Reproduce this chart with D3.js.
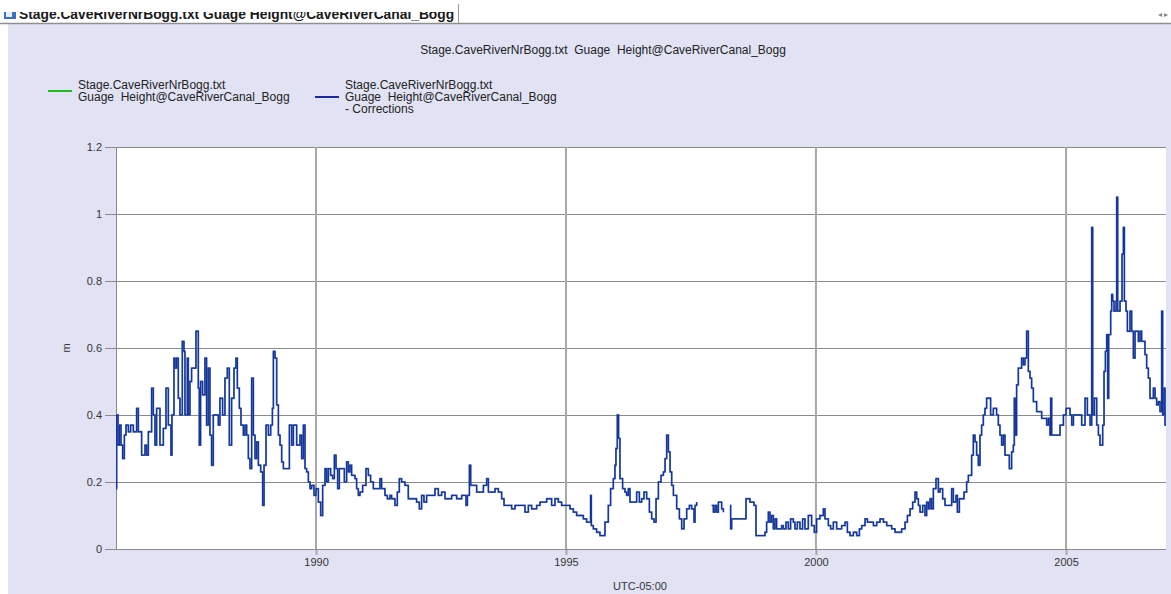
<!DOCTYPE html>
<html>
<head>
<meta charset="utf-8">
<script src="https://cdn.jsdelivr.net/npm/d3@7/dist/d3.min.js"></script>
<style>
  body { margin: 0; background: #ffffff; }
  text { font-family: "Liberation Sans", Arial, sans-serif; white-space: pre; }
</style>
</head>
<body>
<div id="chart"></div>
<script>
(function () {

    // Metin ve eksen verileri
    const tabTitle = "Stage.CaveRiverNrBogg.txt Guage Height@CaveRiverCanal_Bogg";
    const chartTitle = "Stage.CaveRiverNrBogg.txt  Guage  Height@CaveRiverCanal_Bogg";
    const legendRaw = ["Stage.CaveRiverNrBogg.txt", "Guage  Height@CaveRiverCanal_Bogg"];
    const legendCorr = ["Stage.CaveRiverNrBogg.txt", "Guage  Height@CaveRiverCanal_Bogg", "- Corrections"];
    const yTicks = [0, 0.2, 0.4, 0.6, 0.8, 1, 1.2];
    const yTickLabels = ["0", "0.2", "0.4", "0.6", "0.8", "1", "1.2"];
    const xTickYears = [1990, 1995, 2000, 2005];
    const xDomainYears = [1986, 2007];
    const yLabel = "m";
    const xLabel = "UTC-05:00";

    // Seri: ondalık yıl ve su seviyesi (m), null = veri yok
    const years = [
        1986.000, 1986.013, 1986.040, 1986.067, 1986.100, 1986.133, 1986.167, 1986.200, 1986.247, 1986.293,
        1986.347, 1986.413, 1986.447, 1986.513, 1986.580, 1986.613, 1986.647, 1986.713, 1986.747, 1986.780,
        1986.813, 1986.880, 1986.947, 1987.000, 1987.047, 1987.100, 1987.120, 1987.160, 1987.180, 1987.213,
        1987.247, 1987.280, 1987.327, 1987.360, 1987.380, 1987.427, 1987.447, 1987.480, 1987.513, 1987.600,
        1987.647, 1987.667, 1987.693, 1987.733, 1987.780, 1987.813, 1987.847, 1987.880, 1987.913, 1987.947,
        1988.047, 1988.080, 1988.133, 1988.180, 1988.227, 1988.267, 1988.313, 1988.360, 1988.400, 1988.427,
        1988.467, 1988.500, 1988.547, 1988.580, 1988.613, 1988.647, 1988.680, 1988.713, 1988.747, 1988.780,
        1988.813, 1988.847, 1988.893, 1988.933, 1988.960, 1989.000, 1989.047, 1989.093, 1989.127, 1989.147,
        1989.180, 1989.213, 1989.247, 1989.280, 1989.313, 1989.347, 1989.467, 1989.513, 1989.547, 1989.613,
        1989.680, 1989.713, 1989.747, 1989.780, 1989.813, 1989.847, 1989.880, 1989.913, 1989.960, 1990.000,
        1990.047, 1990.093, 1990.133,
        1990.180, 1990.213, 1990.247, 1990.293, 1990.333, 1990.367, 1990.400, 1990.433, 1990.467, 1990.567,
        1990.613, 1990.647, 1990.680, 1990.713, 1990.780, 1990.813, 1990.847, 1990.880, 1990.933, 1991.000,
        1991.047, 1991.093, 1991.147, 1991.280, 1991.313, 1991.380, 1991.427, 1991.480, 1991.513, 1991.580,
        1991.627, 1991.667, 1991.713, 1991.780, 1991.847, 1992.013, 1992.067, 1992.113, 1992.160, 1992.213,
        1992.380, 1992.447, 1992.513, 1992.580, 1992.713, 1992.813, 1992.913, 1993.000, 1993.027, 1993.067,
        1993.093, 1993.213, 1993.347, 1993.413, 1993.447, 1993.580, 1993.647, 1993.713, 1993.760, 1993.913,
        1993.980, 1994.180, 1994.247, 1994.313, 1994.413,
        1994.480, 1994.613, 1994.713, 1994.780, 1994.847, 1994.913, 1995.080, 1995.147, 1995.213, 1995.280,
        1995.347, 1995.413, 1995.493, 1995.507, 1995.547, 1995.613, 1995.680, 1995.780, 1995.847, 1995.893,
        1995.947, 1995.980, 1996.000, 1996.027, 1996.053, 1996.080, 1996.133, 1996.180, 1996.213, 1996.247,
        1996.280, 1996.413, 1996.467, 1996.513, 1996.560, 1996.613, 1996.667, 1996.713, 1996.760, 1996.800,
        1996.847, 1996.900, 1996.947, 1996.980, 1997.013, 1997.047, 1997.080, 1997.113, 1997.147, 1997.213,
        1997.267, 1997.313, 1997.360, 1997.413, 1997.467, 1997.513, 1997.560, 1997.580, 1997.613, 1997.650,
        1997.913, 1997.947, 1997.980, 1998.013, 1998.047, 1998.113, 1998.147, 1998.170,
        1998.280, 1998.293, 1998.313, 1998.547, 1998.600, 1998.680, 1998.760, 1998.800, 1998.913, 1998.980,
        1999.013, 1999.047,
        1999.080, 1999.113, 1999.147, 1999.180, 1999.213, 1999.313, 1999.347, 1999.400, 1999.447, 1999.493,
        1999.547, 1999.580, 1999.627, 1999.680, 1999.733, 1999.780, 1999.847, 1999.913, 1999.967, 2000.013,
        2000.080, 2000.147, 2000.180, 2000.247, 2000.293, 2000.347, 2000.413, 2000.513, 2000.580, 2000.627,
        2000.680, 2000.747, 2000.813, 2000.867, 2000.913, 2000.980, 2001.027, 2001.147, 2001.213, 2001.280,
        2001.347, 2001.413, 2001.513, 2001.580, 2001.667, 2001.713, 2001.780, 2001.827, 2001.880, 2001.933,
        2001.980, 2002.013, 2002.047, 2002.080, 2002.133, 2002.180, 2002.213, 2002.247, 2002.280, 2002.313,
        2002.347, 2002.400, 2002.447, 2002.480, 2002.533, 2002.580, 2002.647, 2002.713, 2002.747, 2002.800,
        2002.827, 2002.867, 2002.913, 2002.960, 2003.013, 2003.047,
        2003.113, 2003.147, 2003.180, 2003.213, 2003.247, 2003.280, 2003.313, 2003.347, 2003.380, 2003.413,
        2003.493, 2003.547, 2003.613, 2003.647, 2003.680, 2003.713, 2003.747, 2003.780, 2003.867, 2003.913,
        2003.947, 2003.967, 2003.987, 2004.013, 2004.047, 2004.113, 2004.147, 2004.180, 2004.213, 2004.247,
        2004.280, 2004.313, 2004.347, 2004.413, 2004.513, 2004.613, 2004.647, 2004.680, 2004.693, 2004.713,
        2004.880, 2004.947, 2005.000, 2005.080, 2005.113, 2005.147, 2005.313, 2005.380, 2005.427, 2005.480,
        2005.513, 2005.533, 2005.567, 2005.613, 2005.647, 2005.680, 2005.733, 2005.760, 2005.787, 2005.813,
        2005.833, 2005.853, 2005.893, 2005.913, 2005.933, 2005.960, 2006.000, 2006.013, 2006.033, 2006.080,
        2006.120, 2006.147, 2006.167, 2006.200, 2006.227, 2006.280, 2006.313, 2006.347, 2006.380, 2006.447,
        2006.480, 2006.513, 2006.580, 2006.613, 2006.647, 2006.680, 2006.747, 2006.780, 2006.813, 2006.847,
        2006.880, 2006.913, 2006.933, 2006.960, 2006.980, 2007.000
    ];
    const stage = [
        0.18, 0.40, 0.31, 0.37, 0.31, 0.27, 0.34, 0.37, 0.35, 0.37,
        0.35, 0.42, 0.35, 0.28, 0.31, 0.28, 0.35, 0.48, 0.40, 0.31,
        0.42, 0.31, 0.36, 0.48, 0.37, 0.28, 0.40, 0.57, 0.54, 0.57,
        0.45, 0.40, 0.62, 0.59, 0.40, 0.57, 0.40, 0.50, 0.54, 0.65,
        0.48, 0.31, 0.50, 0.46, 0.57, 0.37, 0.54, 0.34, 0.25, 0.40,
        0.37, 0.45, 0.40, 0.51, 0.54, 0.31, 0.45, 0.54, 0.57, 0.48,
        0.42, 0.37, 0.34, 0.37, 0.34, 0.27, 0.24, 0.51, 0.34, 0.27,
        0.32, 0.25, 0.23, 0.13, 0.25, 0.37, 0.34, 0.37, 0.42, 0.59,
        0.57, 0.43, 0.34, 0.31, 0.26, 0.24, 0.37, 0.31, 0.37, 0.31,
        0.34, 0.27, 0.37, 0.24, 0.23, 0.20, 0.18, 0.19, 0.16, 0.18,
        0.14, 0.10, 0.19,
        0.24, 0.20, 0.24, 0.22, 0.21, 0.28, 0.24, 0.18, 0.24, 0.20,
        0.26, 0.23, 0.25, 0.22, 0.21, 0.18, 0.16, 0.17, 0.19, 0.24,
        0.22, 0.20, 0.18, 0.21, 0.18, 0.16, 0.15, 0.16, 0.15, 0.13,
        0.17, 0.21, 0.20, 0.19, 0.15, 0.14, 0.12, 0.16, 0.14, 0.16,
        0.18, 0.16, 0.17, 0.15, 0.16, 0.15, 0.16, 0.13, 0.16, 0.25,
        0.19, 0.17, 0.19, 0.21, 0.17, 0.18, 0.17, 0.15, 0.13, 0.12,
        0.13, 0.11, 0.13, 0.12, 0.13,
        0.14, 0.15, 0.13, 0.15, 0.14, 0.13, 0.12, 0.11, 0.10, 0.10,
        0.09, 0.08, 0.16, 0.07, 0.06, 0.05, 0.04, 0.08, 0.13, 0.18,
        0.21, 0.25, 0.30, 0.40, 0.33, 0.21, 0.18, 0.17, 0.16, 0.18,
        0.14, 0.17, 0.14, 0.15, 0.17, 0.15, 0.11, 0.09, 0.08, 0.15,
        0.20, 0.22, 0.23, 0.27, 0.34, 0.29, 0.23, 0.19, 0.16, 0.12,
        0.09, 0.06, 0.09, 0.12, 0.13, 0.12, 0.08, 0.13, 0.14, null,
        0.13, 0.11, 0.13, 0.11, 0.14, 0.12, 0.11, null,
        0.13, 0.06, 0.09, 0.09, 0.15, 0.14, 0.13, 0.04, 0.04, 0.05,
        0.08, 0.11,
        0.08, 0.10, 0.06, 0.09, 0.06, 0.07, 0.06, 0.08, 0.06, 0.09,
        0.08, 0.06, 0.08, 0.06, 0.09, 0.06, 0.10, 0.07, 0.05, 0.09,
        0.10, 0.12, 0.09, 0.07, 0.06, 0.08, 0.06, 0.07, 0.08, 0.05,
        0.04, 0.05, 0.04, 0.06, 0.07, 0.09, 0.08, 0.07, 0.08, 0.09,
        0.08, 0.07, 0.06, 0.05, 0.05, 0.06, 0.08, 0.10, 0.12, 0.14,
        0.17, 0.15, 0.13, 0.11, 0.13, 0.10, 0.14, 0.12, 0.15, 0.12,
        0.18, 0.21, 0.17, 0.18, 0.15, 0.13, 0.13, 0.18, 0.14, 0.16,
        0.11, 0.15, 0.15, 0.17, 0.20, 0.22,
        0.28, 0.34, 0.32, 0.28, 0.25, 0.34, 0.37, 0.40, 0.42, 0.45,
        0.40, 0.42, 0.40, 0.37, 0.34, 0.31, 0.34, 0.28, 0.24, 0.29,
        0.31, 0.45, 0.34, 0.49, 0.54, 0.57, 0.55, 0.57, 0.65, 0.53,
        0.51, 0.48, 0.44, 0.41, 0.39, 0.37, 0.39, 0.34, 0.45, 0.34,
        0.37, 0.40, 0.42, 0.40, 0.37, 0.40, 0.37, 0.45, 0.40, 0.37,
        0.96, 0.40, 0.45, 0.37, 0.34, 0.31, 0.37, 0.53, 0.59, 0.64,
        0.45, 0.64, 0.71, 0.76, 0.74, 0.71, 0.74, 1.05, 0.71, 0.74,
        0.88, 0.96, 0.74, 0.71, 0.65, 0.71, 0.65, 0.57, 0.65, 0.62,
        0.65, 0.62, 0.58, 0.54, 0.51, 0.45, 0.48, 0.45, 0.43, 0.44,
        0.41, 0.71, 0.40, 0.48, 0.37, 0.37
    ];

    // Ondalık yılı tarihe çevir
    function yearToDate(y) {
        const yr = Math.floor(y);
        const start = new Date(yr, 0, 1);
        const end = new Date(yr + 1, 0, 1);
        return new Date(+start + (y - yr) * (end - start));
    }

    const data = years.map((y, i) => ({ date: yearToDate(y), value: stage[i] }));

    const width = 1171;
    const height = 594;
    const plotLeft = 116;
    const plotRight = 1166;
    const plotTop = 147;
    const plotBottom = 549;

    const svg = d3.select('#chart')
        .append('svg')
        .attr('width', width)
        .attr('height', height);

    // Üst sekme şeridi
    svg.append("rect")
        .attr("x", 0).attr("y", 0)
        .attr("width", width).attr("height", 24)
        .attr("fill", "#ffffff");

    svg.append("clipPath").attr("id", "tabclip")
        .append("rect")
        .attr("x", 0).attr("y", 12)
        .attr("width", 458).attr("height", 11);

    const tab = svg.append("g").attr("clip-path", "url(#tabclip)");
    tab.append("rect")
        .attr("x", 4).attr("y", 7)
        .attr("width", 12).attr("height", 12)
        .attr("fill", "#3a6fc4");
    tab.append("rect")
        .attr("x", 6).attr("y", 12)
        .attr("width", 6).attr("height", 5)
        .attr("fill", "#e8eefa");
    tab.append("text")
        .attr("x", 19).attr("y", 19)
        .attr("font-size", 13.8)
        .attr("font-weight", "bold")
        .attr("fill", "#1a1a1a")
        .text(tabTitle);

    svg.append("line")
        .attr("x1", 458.5).attr("x2", 458.5)
        .attr("y1", 4).attr("y2", 23)
        .attr("stroke", "#9a9a9a");

    svg.append("text")
        .attr("x", 1163).attr("y", 17)
        .attr("font-size", 8)
        .attr("fill", "#888")
        .attr("text-anchor", "middle")
        .text("◂ ▸");

    // Lavanta panel
    svg.append("rect")
        .attr("x", 8).attr("y", 24)
        .attr("width", width - 8).attr("height", height - 24)
        .attr("fill", "#e1e3f5");

    svg.append("line")
        .attr("x1", 0).attr("x2", width)
        .attr("y1", 23.5).attr("y2", 23.5)
        .attr("stroke", "#8f8f8f")
        .attr("stroke-width", 1.5);

    // Çizim alanı
    svg.append("rect")
        .attr("x", plotLeft).attr("y", plotTop)
        .attr("width", plotRight - plotLeft).attr("height", plotBottom - plotTop)
        .attr("fill", "#ffffff");

    // Ölçekler
    const x = d3.scaleTime()
        .domain(xDomainYears.map(yearToDate))
        .range([plotLeft, plotRight]);

    const y = d3.scaleLinear()
        .domain([0, 1.2])
        .range([plotBottom, plotTop]);

    // Yatay ızgara ve y ekseni
    const yAxis = d3.axisLeft(y)
        .tickValues(yTicks)
        .tickFormat((d, i) => yTickLabels[i])
        .tickSize(11)
        .tickPadding(3);

    const gy = svg.append("g")
        .attr("transform", `translate(${plotLeft},0)`)
        .call(yAxis);
    gy.select(".domain").remove();
    gy.selectAll(".tick line").attr("stroke", "#8a8a8a").attr("shape-rendering", "crispEdges");
    gy.selectAll(".tick text")
        .attr("font-size", 11)
        .attr("font-family", "Liberation Sans, Arial, sans-serif")
        .attr("fill", "#333");

    svg.append("g")
        .selectAll("line")
        .data(yTicks)
        .join("line")
        .attr("x1", plotLeft).attr("x2", plotRight)
        .attr("y1", d => y(d)).attr("y2", d => y(d))
        .attr("stroke", "#8a8a8a")
        .attr("shape-rendering", "crispEdges");

    // Dikey ızgara ve x ekseni
    const xAxis = d3.axisBottom(x)
        .tickValues(xTickYears.map(yearToDate))
        .tickFormat(d3.timeFormat("%Y"))
        .tickSize(6)
        .tickPadding(3);

    const gx = svg.append("g")
        .attr("transform", `translate(0,${plotBottom})`)
        .call(xAxis);
    gx.select(".domain").remove();
    gx.selectAll(".tick line").attr("stroke", "#a8a8a8").attr("stroke-width", 2);
    gx.selectAll(".tick text")
        .attr("font-size", 11)
        .attr("font-family", "Liberation Sans, Arial, sans-serif")
        .attr("fill", "#333");

    svg.append("g")
        .selectAll("line")
        .data(xTickYears)
        .join("line")
        .attr("x1", d => x(yearToDate(d))).attr("x2", d => x(yearToDate(d)))
        .attr("y1", plotTop).attr("y2", plotBottom)
        .attr("stroke", "#a8a8a8")
        .attr("stroke-width", 2);

    // Eksen çizgileri (sol ve alt)
    svg.append("line")
        .attr("x1", plotLeft + 0.5).attr("x2", plotLeft + 0.5)
        .attr("y1", plotTop).attr("y2", plotBottom)
        .attr("stroke", "#8a8a8a");
    svg.append("line")
        .attr("x1", plotLeft).attr("x2", plotRight)
        .attr("y1", plotBottom + 0.5).attr("y2", plotBottom + 0.5)
        .attr("stroke", "#8a8a8a");

    // Seri çizgisi
    const line = d3.line()
        .defined(d => d.value !== null)
        .x(d => x(d.date))
        .y(d => y(d.value))
        .curve(d3.curveStepAfter);

    svg.append("clipPath").attr("id", "plotclip")
        .append("rect")
        .attr("x", plotLeft).attr("y", plotTop - 2)
        .attr("width", plotRight - plotLeft).attr("height", plotBottom - plotTop + 2);

    svg.append("path")
        .datum(data)
        .attr("clip-path", "url(#plotclip)")
        .attr("fill", "none")
        .attr("stroke", "#4a70a8")
        .attr("stroke-width", 1.8)
        .attr("d", line);

    svg.append("path")
        .datum(data)
        .attr("clip-path", "url(#plotclip)")
        .attr("fill", "none")
        .attr("stroke", "#0f2a9e")
        .attr("stroke-width", 1)
        .attr("d", line);

    // Başlık
    svg.append("text")
        .attr("x", 603).attr("y", 54)
        .attr("text-anchor", "middle")
        .attr("xml:space", "preserve")
        .attr("font-size", 12)
        .attr("fill", "#222")
        .text(chartTitle);

    // Lejant
    function drawLegend(x0, lineY, lines, color) {
        svg.append("line")
            .attr("x1", x0).attr("x2", x0 + 24)
            .attr("y1", lineY).attr("y2", lineY)
            .attr("stroke", color)
            .attr("stroke-width", 2);
        svg.append("g")
            .selectAll("text")
            .data(lines)
            .join("text")
            .attr("x", x0 + 30)
            .attr("y", (d, i) => 89 + i * 12)
            .attr("xml:space", "preserve")
            .attr("font-size", 12)
            .attr("fill", "#222")
            .text(d => d);
    }
    drawLegend(48, 91, legendRaw, "#22bb22");
    drawLegend(315, 97, legendCorr, "#1a2aa0");

    // Eksen başlıkları
    svg.append("text")
        .attr("transform", "translate(70,348) rotate(-90)")
        .attr("text-anchor", "middle")
        .attr("font-size", 11)
        .attr("fill", "#333")
        .text(yLabel);

    svg.append("text")
        .attr("x", 640).attr("y", 590)
        .attr("text-anchor", "middle")
        .attr("font-size", 11)
        .attr("fill", "#333")
        .text(xLabel);
})();
</script>
</body>
</html>
